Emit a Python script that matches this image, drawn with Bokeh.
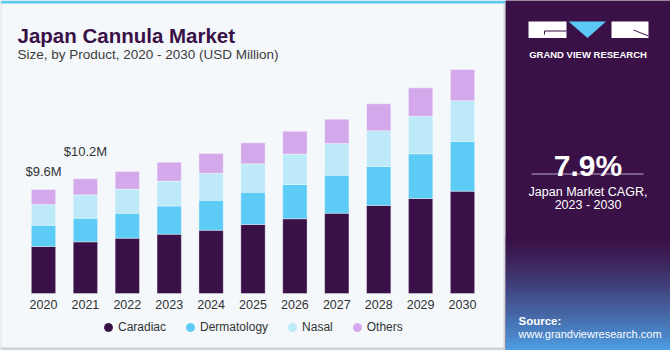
from bokeh.plotting import figure
from bokeh.models import (ColumnDataSource, Range1d, Label, Legend, LegendItem, BoxAnnotation)
from bokeh.layouts import row
from bokeh.embed import file_html
from bokeh.resources import INLINE
from bokeh.core.properties import value

# ---------------- data ----------------
years = [2020, 2021, 2022, 2023, 2024, 2025, 2026, 2027, 2028, 2029, 2030]
year_labels = ["2020", "2021", "2022", "2023", "2024", "2025", "2026", "2027", "2028", "2029", "2030"]
caradiac = [4.34, 4.77, 5.11, 5.48, 5.84, 6.37, 6.90, 7.41, 8.13, 8.77, 9.45]
dermatology = [1.97, 2.18, 2.31, 2.59, 2.77, 2.98, 3.17, 3.51, 3.60, 4.13, 4.59]
nasal = [1.91, 2.16, 2.22, 2.31, 2.49, 2.62, 2.80, 2.93, 3.30, 3.47, 3.76]
others = [1.39, 1.48, 1.63, 1.73, 1.82, 1.94, 2.10, 2.24, 2.49, 2.62, 2.89]
series = ["Caradiac", "Dermatology", "Nasal", "Others"]
value_label_years = [2020, 2021]
value_label_texts = ["$9.6M", "$10.2M"]
cagr_text = "7.9%"

# ---------------- styles ----------------
colors = ["#3a1048", "#5ccbf6", "#bde9f9", "#d4a9ec"]
BG = "#f4f8fb"
PANEL = "#3a1147"
FONT = "Liberation Sans"
value_label_offsets = [-18, -27]

src = ColumnDataSource(dict(year=years, Caradiac=caradiac, Dermatology=dermatology,
                            Nasal=nasal, Others=others))
totals = [a + b + c + d for a, b, c, d in zip(caradiac, dermatology, nasal, others)]
lab_src = ColumnDataSource(dict(
    x=value_label_years,
    y=[totals[years.index(y)] for y in value_label_years],
    text=value_label_texts,
    dy=value_label_offsets))
tick_src = ColumnDataSource(dict(x=years, y=[0] * len(years), text=year_labels))

step = 41.9
ppu = 10.83
p = figure(width=505, height=350,
           x_range=Range1d(years[0] - 43 / step, years[0] + 462 / step),
           y_range=Range1d(-57 / ppu, 293 / ppu),
           output_backend="svg", toolbar_location=None,
           x_axis_type=None, y_axis_type=None,
           min_border_left=0, min_border_right=0, min_border_top=0, min_border_bottom=0,
           background_fill_color=BG, border_fill_color=BG, outline_line_color=None)
p.grid.visible = False

p.vbar_stack(series, x="year", width=0.58, color=colors, source=src,
             line_color="#ffffff", line_alpha=0.35, line_width=1)

p.text(x="x", y="y", text="text", source=lab_src, y_offset="dy",
       text_align="center", text_baseline="middle",
       text_font=value(FONT), text_font_size="13px", text_color="#333333")

# category tick labels
p.text(x="x", y="y", text="text", source=tick_src, y_offset=10.5,
       text_align="center", text_baseline="middle",
       text_font=value(FONT), text_font_size="12.5px", text_color="#333333")

# legend with circle markers (renderers hold no visible point)
nan = float("nan")
items = []
for s, c in zip(series, colors):
    r = p.scatter(x=[nan], y=[nan], marker="circle", size=8, fill_color=c, line_color=c)
    items.append(LegendItem(label=s, renderers=[r]))
leg = Legend(items=items, orientation="horizontal", location=(98, 13),
             glyph_width=20, glyph_height=20, label_standoff=0, spacing=14,
             padding=0, margin=0, border_line_color=None, background_fill_alpha=0,
             label_text_font=FONT, label_text_font_size="12px",
             label_text_color="#333333")
p.add_layout(leg)

# title & subtitle
p.add_layout(Label(x=17, y=350 - 35, x_units="screen", y_units="screen",
                   text="Japan Cannula Market", text_font=FONT, text_font_style="bold",
                   text_font_size="20.5px", text_color="#3a1147", text_baseline="alphabetic"))
p.add_layout(Label(x=17, y=350 - 53.5, x_units="screen", y_units="screen",
                   text="Size, by Product, 2020 - 2030 (USD Million)", text_font=FONT,
                   text_font_size="13.5px", text_color="#3c3c3c", text_baseline="alphabetic"))

# decorations (canvas units)
for l, r_, t, b, c in [(0, 505, 0, 3, "#5bc8f0"), (0, 1, 0, 350, "#d2d6da"),
                       (503, 505, 3, 350, "#d2d6da"), (0, 505, 347, 350, "#cfd2d5")]:
    p.add_layout(BoxAnnotation(left=l, right=r_, top=t, bottom=b,
                               left_units="canvas", right_units="canvas",
                               top_units="canvas", bottom_units="canvas",
                               fill_color=c, fill_alpha=1, line_color=None))

# ---------------- right panel ----------------
q = figure(width=165, height=350, x_range=Range1d(0, 165), y_range=Range1d(350, 0),
           output_backend="svg", toolbar_location=None,
           x_axis_type=None, y_axis_type=None,
           min_border_left=0, min_border_right=0, min_border_top=0, min_border_bottom=0,
           background_fill_color=PANEL, border_fill_color=PANEL, outline_line_color=None)
q.grid.visible = False

# gradient at the bottom
n = 40
c0 = (0x3a, 0x11, 0x47)
c1 = (0x4d, 0x9d, 0xe2)
g_top, g_bot = 235.0, 350.0
tops, bots, gcols = [], [], []
for i in range(n):
    t = i / (n - 1)
    tt = t ** 1.3
    col = "#%02x%02x%02x" % tuple(int(round(a + (b - a) * tt)) for a, b in zip(c0, c1))
    tops.append(g_top + (g_bot - g_top) * i / n)
    bots.append(g_top + (g_bot - g_top) * (i + 1) / n + 0.5)
    gcols.append(col)
q.quad(left=0, right=165, top=tops, bottom=bots, fill_color=gcols, line_color=None)

# logo
q.quad(left=[23, 106], right=[61, 143], top=[21, 21], bottom=[37.5, 37.5],
       fill_color="white", line_color=None)
q.patch(x=[63, 100.5, 82], y=[21, 21, 37.5], fill_color="#5bc8f5", line_color=None)
q.line(x=[39, 61], y=[30.5, 30.5], line_color=PANEL, line_width=1)
q.line(x=[39, 39], y=[30.5, 34], line_color=PANEL, line_width=1)
q.line(x=[128, 143], y=[29.5, 35.5], line_color=PANEL, line_width=1)
q.add_layout(Label(x=82.5, y=54, text="GRAND VIEW RESEARCH", text_align="center",
                   text_baseline="alphabetic", text_font=FONT, text_font_style="bold",
                   text_font_size="9.5px", text_color="white"))

q.add_layout(Label(x=82.5, y=165, text=cagr_text, text_align="center",
                   text_baseline="alphabetic", text_font=FONT, text_font_style="bold",
                   text_font_size="30px", text_color="white"))
q.line(x=[26, 138], y=[173.5, 173.5], line_color="#b9a9c9", line_width=1)
q.add_layout(Label(x=82.5, y=191.5, text="Japan Market CAGR,", text_align="center",
                   text_baseline="alphabetic", text_font=FONT,
                   text_font_size="12.5px", text_color="white"))
q.add_layout(Label(x=82.5, y=204.5, text="2023 - 2030", text_align="center",
                   text_baseline="alphabetic", text_font=FONT,
                   text_font_size="12.5px", text_color="white"))
q.add_layout(Label(x=13, y=320, text="Source:", text_align="left",
                   text_baseline="alphabetic", text_font=FONT, text_font_style="bold",
                   text_font_size="11.5px", text_color="white"))
q.add_layout(Label(x=13, y=333, text="www.grandviewresearch.com", text_align="left",
                   text_baseline="alphabetic", text_font=FONT,
                   text_font_size="11px", text_color="white"))

layout = row(p, q, spacing=0)
open("out.html", "w").write(file_html(layout, INLINE))
